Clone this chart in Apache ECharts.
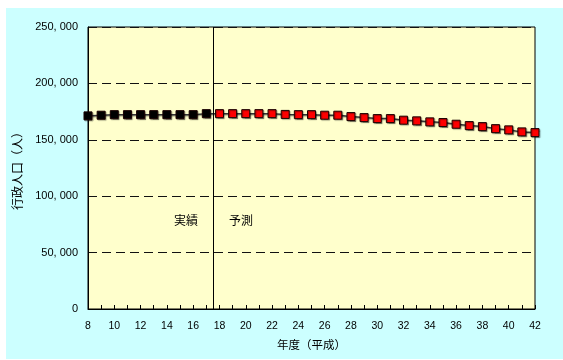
<!DOCTYPE html>
<html>
<head>
<meta charset="utf-8">
<script src="https://cdn.jsdelivr.net/npm/echarts@6/dist/echarts.min.js"></script>
<style>
  html, body { margin: 0; padding: 0; background: #ffffff; }
  #chart { width: 563px; height: 360px; }
</style>
</head>
<body>
<div id="chart"></div>
<script>
// 年度（平成）
const years = [8, 9, 10, 11, 12, 13, 14, 15, 16, 17, 18, 19, 20, 21, 22, 23, 24, 25,
  26, 27, 28, 29, 30, 31, 32, 33, 34, 35, 36, 37, 38, 39, 40, 41, 42];
// 行政人口（人）
const population = [171200, 171800, 172300, 172300, 172300, 172300, 172300, 172300, 172300,
  173200, 173200, 173200, 173200, 173200, 173200, 172500, 172300, 172300,
  171800, 171800, 170600, 169700, 168800, 168800, 167400, 166800, 165900,
  165300, 163800, 162600, 161700, 159900, 158800, 157000, 156400];
// 実績 / 予測 の境目
const lastActualYear = 17;
const phaseLabels = ['実績', '予測'];
const yTicks = [0, 50000, 100000, 150000, 200000, 250000];

const FONT = '"Liberation Sans", "Noto Sans CJK JP", sans-serif';
const points = years.map((y, i) => [y, population[i]]);

function fmtThousands(v) {
  const s = String(v);
  if (v < 1000) return s;
  return s.slice(0, s.length - 3) + ', ' + s.slice(-3);
}

const chart = echarts.init(document.getElementById('chart'), null, { renderer: 'canvas' });
chart.setOption({
  animation: false,
  backgroundColor: '#ffffff',
  graphic: [{
    type: 'rect',
    left: 6, top: 8,
    shape: { width: 557, height: 351 },
    style: { fill: '#ccffff' },
    z: -10
  }],
  grid: {
    left: 88, top: 27, right: 28, bottom: 51,
    show: true,
    backgroundColor: '#ffffcc',
    borderColor: '#000000',
    borderWidth: 1
  },
  xAxis: {
    type: 'value',
    min: 8, max: 42, interval: 2,
    name: '年度（平成）',
    nameLocation: 'middle',
    nameGap: 31,
    nameTextStyle: { fontFamily: FONT, fontSize: 11.5, color: '#000' },
    axisLine: { lineStyle: { color: '#000', width: 1 } },
    axisTick: { show: true, inside: true, length: 4, lineStyle: { color: '#000' } },
    minorTick: { show: true, splitNumber: 2, length: 4, lineStyle: { color: '#000' } },
    axisLabel: { fontFamily: FONT, fontSize: 10.5, color: '#000', margin: 12 },
    splitLine: { show: false }
  },
  yAxis: {
    type: 'value',
    min: yTicks[0], max: yTicks[yTicks.length - 1], interval: 50000,
    name: '行政人口（人）',
    nameLocation: 'middle',
    nameRotate: 90,
    nameGap: 57,
    nameTextStyle: { fontFamily: FONT, fontSize: 12, color: '#000' },
    axisLine: { show: true, lineStyle: { color: '#000', width: 1 } },
    axisTick: { show: false },
    axisLabel: { fontFamily: FONT, fontSize: 11, color: '#000', margin: 10, formatter: fmtThousands },
    splitLine: { show: true, lineStyle: { color: '#111', width: 1, type: [9, 5] } }
  },
  series: [{
    type: 'line',
    data: points,
    symbol: 'rect',
    symbolSize: 8,
    lineStyle: {
      color: '#333', width: 1.5,
      shadowColor: 'rgba(0,0,0,0.35)', shadowBlur: 1, shadowOffsetX: 1, shadowOffsetY: 1
    },
    itemStyle: {
      color: p => (p.value[0] <= lastActualYear ? '#000000' : '#ff0000'),
      borderColor: '#1a0000',
      borderWidth: 1,
      shadowColor: 'rgba(0,0,0,0.35)', shadowBlur: 1, shadowOffsetX: 1, shadowOffsetY: 1
    },
    markLine: {
      silent: true,
      symbol: 'none',
      label: { show: false },
      lineStyle: { color: '#000', width: 1, type: 'solid' },
      data: [{ xAxis: lastActualYear + 0.5 }]
    },
    markPoint: {
      silent: true,
      symbol: 'rect',
      symbolSize: 0,
      data: [
        { coord: [lastActualYear + 0.5, 77500],
          label: { show: true, formatter: phaseLabels[0], position: 'left', distance: 15,
                   fontFamily: FONT, fontSize: 12, color: '#000' } },
        { coord: [lastActualYear + 0.5, 77500],
          label: { show: true, formatter: phaseLabels[1], position: 'right', distance: 16,
                   fontFamily: FONT, fontSize: 12, color: '#000' } }
      ]
    }
  }]
});
</script>
</body>
</html>
